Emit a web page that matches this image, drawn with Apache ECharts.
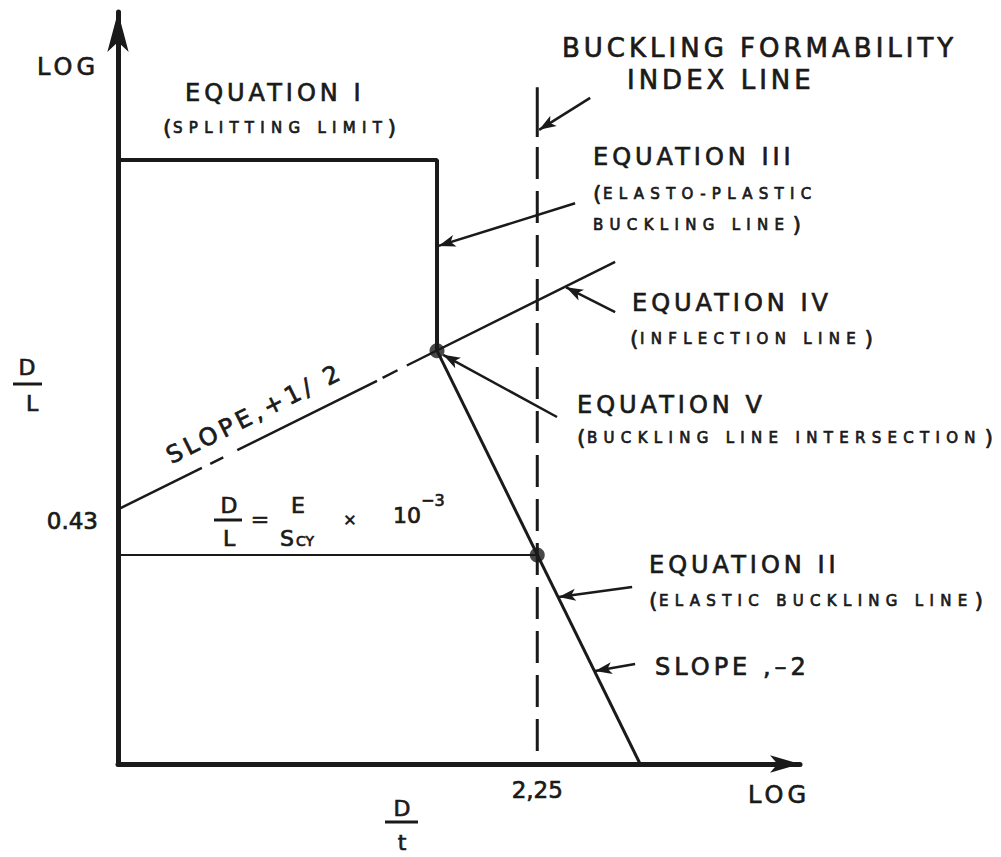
<!DOCTYPE html>
<html>
<head>
<meta charset="utf-8">
<title>Buckling formability index</title>
<script src="https://cdn.jsdelivr.net/npm/echarts@6.0.0/dist/echarts.min.js"></script>
<style>
  html, body { margin: 0; padding: 0; background: #fff; }
  #chart { width: 1001px; height: 857px; }
  /* lettering is widely spaced, more so for the small caps */
  #chart text[style*="24px"], #chart text[style*="26px"] { letter-spacing: 4px; }
  #chart text[style*="15px"] { letter-spacing: 6.3px; }
</style>
</head>
<body>
<div id="chart"></div>
<script>
  // labelled ticks
  var xTickValues = [2.25];
  var xTickLabels = ['2,25'];
  var yTickValues = [0.43];
  var yTickLabels = ['0.43'];

  // equation I (splitting limit), top edge then down to the intersection
  var splitLimit = [[0, 1.02], [1.712, 1.02], [1.712, 0.698]];
  // equation II (elastic buckling line), slope -2
  var elasticLine = [[1.712, 0.698], [2.802, 0]];
  // equation IV (inflection line), slope +1/2, pieces as drawn
  var inflectionPieces = [
    [[0, 0.43], [0.45, 0.5]],
    [[0.495, 0.507], [0.565, 0.518]],
    [[0.64, 0.53], [1.39, 0.647]],
    [[1.42, 0.652], [1.5, 0.665]],
    [[1.55, 0.673], [2.668, 0.848]]
  ];
  // D/L = E/Scy x 10^-3 level
  var indexLevel = [[0, 0.353], [2.25, 0.353]];
  // buckling formability index line
  var indexTop = [[2.25, 1.143], [2.25, 1.059]];
  var indexDashed = [[2.25, 1.042], [2.25, 0]];
  // intersections
  var points = [[1.712, 0.698], [2.25, 0.353]];
  // leader arrows, [tail, head]
  var leaders = [
    [[2.534, 1.125], [2.26, 1.071]],
    [[2.453, 0.947], [1.72, 0.875]],
    [[2.668, 0.763], [2.405, 0.805]],
    [[2.356, 0.586], [1.745, 0.691]],
    [[2.759, 0.299], [2.365, 0.282]],
    [[2.775, 0.169], [2.56, 0.157]]
  ];

  var ink = '#1a1a1a';
  var font = 'DejaVu Sans';

  function txt(x, y, s, size, align, rot) {
    return {
      type: 'text', x: x, y: y, rotation: rot || 0, silent: true,
      style: { text: s, fontSize: size, fontFamily: font, fill: ink,
               stroke: ink, lineWidth: 0.7,
               textAlign: align || 'left', textVerticalAlign: 'middle' }
    };
  }
  function bar(x1, x2, y) {
    return { type: 'line', silent: true, shape: { x1: x1, y1: y, x2: x2, y2: y },
             style: { stroke: ink, lineWidth: 3 } };
  }
  // "(small caps)" with large parentheses
  function sub(x, y, body, xEnd, open, close) {
    var out = [];
    if (open) out.push(txt(x, y, '(', 22));
    out.push(txt(open ? x + 10 : x, y + 1, body, 15));
    if (close) out.push(txt(xEnd, y, ')', 22, 'right'));
    return out;
  }

  var labels = [].concat(
    [txt(37, 67, 'LOG', 24),
     txt(185, 93, 'EQUATION I', 24)],
    sub(163, 127, 'SPLITTING LIMIT', 396, true, true),
    [txt(562, 48, 'BUCKLING FORMABILITY', 26),
     txt(627, 80, 'INDEX LINE', 26),
     txt(593, 157, 'EQUATION III', 24)],
    sub(593, 193, 'ELASTO-PLASTIC', 0, true, false),
    sub(593, 224, 'BUCKLING LINE', 801, false, true),
    [txt(632, 303, 'EQUATION IV', 24)],
    sub(630, 338, 'INFLECTION LINE', 873, true, true),
    [txt(577, 405, 'EQUATION V', 24)],
    sub(577, 437, 'BUCKLING LINE INTERSECTION', 993, true, true),
    [txt(649, 565, 'EQUATION II', 24)],
    sub(649, 600, 'ELASTIC BUCKLING LINE', 983, true, true),
    [txt(655, 667, 'SLOPE ,\u20132', 24),
     txt(168, 457, 'SLOPE,+1/ 2', 24, 'left', Math.atan(0.5)),
     // D/L on the vertical axis
     txt(27, 367, 'D', 22, 'center'), bar(13, 42, 384), txt(32, 403, 'L', 22, 'center'),
     // formula
     txt(229, 505, 'D', 22, 'center'), bar(214, 242, 520), txt(229, 538, 'L', 22, 'center'),
     txt(260, 519, '=', 22, 'center'),
     txt(298, 505, 'E', 22, 'center'),
     txt(280, 538, 'S', 22), txt(296, 541, 'CY', 14),
     txt(350, 519, '\u00d7', 16, 'center'),
     txt(393, 515, '10', 22), txt(421, 500, '\u22123', 16),
     // D/t on the horizontal axis
     txt(402, 808, 'D', 22, 'center'), bar(385, 418, 822), txt(402, 842, 't', 22, 'center'),
     txt(748, 795, 'LOG', 24)]
  );

  var chart = echarts.init(document.getElementById('chart'), null, { renderer: 'svg' });
  chart.setOption({
    animation: false,
    backgroundColor: '#fff',
    grid: { left: 118, right: 201, top: 12, bottom: 93, outerBoundsMode: 'none' },
    xAxis: {
      type: 'value', min: 0, max: 3.66,
      splitLine: { show: false },
      axisTick: { show: false },
      axisLine: { show: true, onZero: false, lineStyle: { color: ink, width: 5 },
                  symbol: ['none', 'arrow'], symbolSize: [13, 30] },
      axisLabel: {
        customValues: xTickValues, margin: 14, fontSize: 23, fontFamily: font, color: ink,
        textBorderColor: ink, textBorderWidth: 0.7,
        formatter: function (v) { return xTickLabels[xTickValues.indexOf(v)]; }
      }
    },
    yAxis: {
      type: 'value', min: 0, max: 1.27,
      splitLine: { show: false },
      axisTick: { show: false },
      axisLine: { show: true, onZero: false, lineStyle: { color: ink, width: 5 },
                  symbol: ['none', 'arrow'], symbolSize: [16, 40] },
      axisLabel: {
        customValues: yTickValues, margin: 20, fontSize: 23, fontFamily: font, color: ink,
        textBorderColor: ink, textBorderWidth: 0.7,
        verticalAlign: 'top', lineHeight: 24,
        formatter: function (v) { return yTickLabels[yTickValues.indexOf(v)]; }
      }
    },
    series: [
      { type: 'line', data: splitLimit, symbol: 'none', silent: true,
        lineStyle: { color: ink, width: 4 } },
      { type: 'line', data: elasticLine, symbol: 'none', silent: true,
        lineStyle: { color: ink, width: 3 } },
      { type: 'lines', coordinateSystem: 'cartesian2d', silent: true,
        data: inflectionPieces.map(function (c) { return { coords: c }; }),
        lineStyle: { color: ink, width: 2.5, opacity: 1 } },
      { type: 'line', data: indexLevel, symbol: 'none', silent: true,
        lineStyle: { color: ink, width: 2 } },
      { type: 'line', data: indexTop, symbol: 'none', silent: true,
        lineStyle: { color: ink, width: 3 } },
      { type: 'line', data: indexDashed, symbol: 'none', silent: true,
        lineStyle: { color: ink, width: 3, type: [32, 12] } },
      { type: 'scatter', data: points, symbolSize: 15, silent: true,
        itemStyle: { color: ink } },
      { type: 'lines', coordinateSystem: 'cartesian2d', silent: true,
        data: leaders.map(function (c) { return { coords: c }; }),
        symbol: ['none', 'arrow'], symbolSize: [[9, 17], [9, 17]],
        lineStyle: { color: ink, width: 2.5, opacity: 1 } }
    ],
    graphic: { elements: labels }
  });
</script>
</body>
</html>
